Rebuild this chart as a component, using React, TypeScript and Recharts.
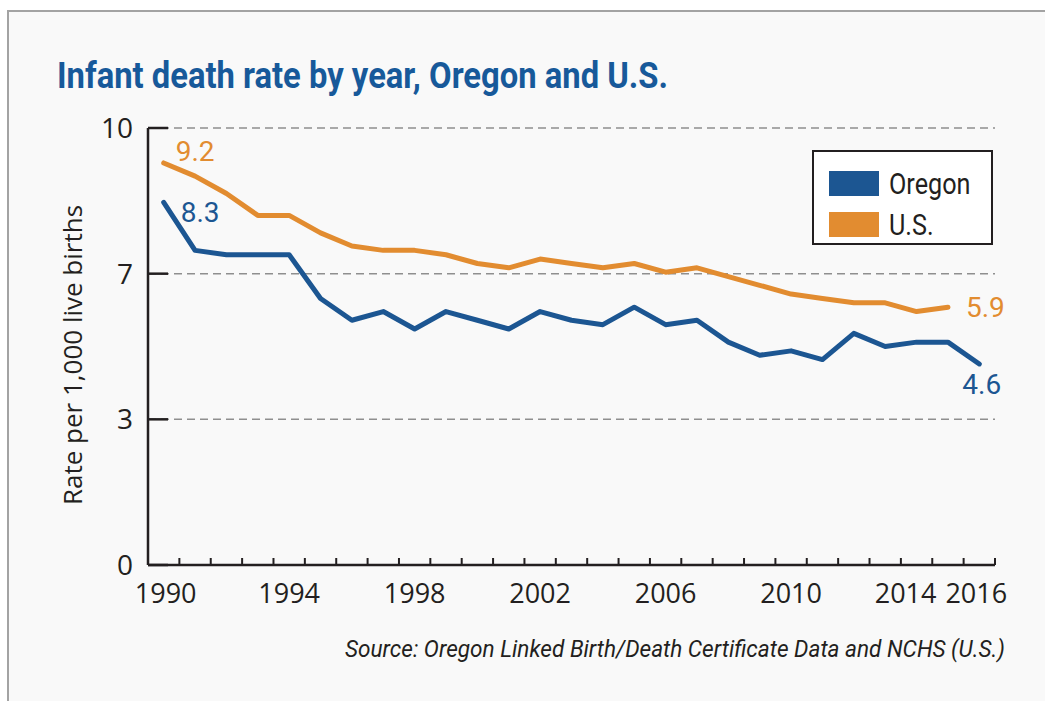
import { LineChart, Line, XAxis, YAxis, CartesianGrid, Legend } from 'recharts';

const years = [
  1990, 1991, 1992, 1993, 1994, 1995, 1996, 1997, 1998, 1999, 2000, 2001, 2002,
  2003, 2004, 2005, 2006, 2007, 2008, 2009, 2010, 2011, 2012, 2013, 2014, 2015, 2016,
];
const oregon = [
  8.3, 7.2, 7.1, 7.1, 7.1, 6.1, 5.6, 5.8, 5.4, 5.8, 5.6, 5.4, 5.8,
  5.6, 5.5, 5.9, 5.5, 5.6, 5.1, 4.8, 4.9, 4.7, 5.3, 5.0, 5.1, 5.1, 4.6,
];
const us = [
  9.2, 8.9, 8.5, 8.0, 8.0, 7.6, 7.3, 7.2, 7.2, 7.1, 6.9, 6.8, 7.0,
  6.9, 6.8, 6.9, 6.7, 6.8, 6.6, 6.4, 6.2, 6.1, 6.0, 6.0, 5.8, 5.9, null,
];
const yearLabels = [1990, 1994, 1998, 2002, 2006, 2010, 2014, 2016];
const yTicks = [0, 10 / 3, 20 / 3, 10];

const BLUE = '#1c5692';
const ORANGE = '#e28c30';
const INK = '#231f20';
const SANS = '"Open Sans", sans-serif';

const data = years.map((year, i) => ({ year, oregon: oregon[i], us: us[i] }));

// minor ticks sit between the years
const minorTicks = years.map((y) => y + 0.5);

function XTick(props: any) {
  const { x, y, payload } = props;
  const v = payload.value;
  if (v % 1 !== 0) {
    return <line x1={x} x2={x} y1={y} y2={y - 7} stroke={INK} strokeWidth={2} />;
  }
  // last two labels crowd each other, nudge them apart
  const dx = v === 2014 ? -11 : v === 2016 ? -3 : v === 1990 ? 2 : 0;
  return (
    <text x={x + dx} y={y + 38} textAnchor="middle" fontFamily={SANS} fontSize={27} fill={INK}>
      {v}
    </text>
  );
}

function YTick(props: any) {
  const { x, y, payload } = props;
  return (
    <g>
      <line x1={x} x2={x + 20} y1={y} y2={y} stroke={INK} strokeWidth={2.5} />
      <text x={x - 15} y={y + 10} textAnchor="end" fontFamily={SANS} fontSize={28} fill={INK}>
        {Math.round(payload.value)}
      </text>
    </g>
  );
}

function endLabel(color: string, first: [number, number], last: [number, number], lastIndex: number) {
  return (props: any) => {
    const { x, y, value, index } = props;
    if (index !== 0 && index !== lastIndex) return null;
    const [dx, dy] = index === 0 ? first : last;
    return (
      <text
        x={x + dx}
        y={y + dy}
        fontFamily="Roboto, sans-serif"
        fontSize={28}
        fill={color}
        dominantBaseline="central"
      >
        {value.toFixed(1)}
      </text>
    );
  };
}

function LegendBox({ payload }: any) {
  return (
    <div
      style={{
        border: `2.5px solid ${INK}`,
        background: '#fff',
        width: 181,
        height: 95,
        boxSizing: 'border-box',
        padding: '11px 0 0 15px',
      }}
    >
      {payload.map((p: any) => (
        <div key={p.value} style={{ display: 'flex', alignItems: 'center', height: 41 }}>
          <span style={{ width: 50, height: 25, background: p.color, marginRight: 10, flexShrink: 0 }} />
          <span
            style={{
              fontFamily: 'Roboto, sans-serif',
              fontSize: 30,
              color: INK,
              display: 'inline-block',
              transform: 'scaleX(0.84)',
              transformOrigin: 'left center',
              whiteSpace: 'nowrap',
            }}
          >
            {p.value}
          </span>
        </div>
      ))}
    </div>
  );
}

export default function App() {
  return (
    <div style={{ position: 'absolute', left: 0, top: 0, width: 1045, height: 701, background: '#fff', overflow: 'hidden' }}>
      <div
        style={{
          position: 'absolute',
          left: 7,
          top: 10,
          width: 1060,
          height: 720,
          border: '2px solid #a3a3a3',
          background: '#f9f9f9',
        }}
      />
      <svg width={1045} height={701} style={{ position: 'absolute', left: 0, top: 0 }}>
        <text
          x={57}
          y={88}
          fontFamily="Roboto, sans-serif"
          fontWeight="bold"
          fontSize={36}
          fill="#17599a"
          textLength={611}
          lengthAdjust="spacingAndGlyphs"
        >
          Infant death rate by year, Oregon and U.S.
        </text>
        <text
          x={82}
          y={355}
          transform="rotate(-90 82 355)"
          textAnchor="middle"
          fontFamily={SANS}
          fontSize={26}
          fill={INK}
        >
          Rate per 1,000 live births
        </text>
        <text
          x={345}
          y={657}
          fontFamily="Roboto, sans-serif"
          fontStyle="italic"
          fontSize={23}
          fill={INK}
          textLength={660}
          lengthAdjust="spacingAndGlyphs"
        >
          Source: Oregon Linked Birth/Death Certificate Data and NCHS (U.S.)
        </text>
      </svg>
      <div style={{ position: 'absolute', left: 0, top: 0 }}>
        <LineChart width={1045} height={701} data={data} margin={{ top: 128, right: 50, left: 0, bottom: 0 }}>
          <CartesianGrid vertical={false} stroke="#8f8f8f" strokeWidth={1.5} strokeDasharray="8 5" />
          <XAxis
            dataKey="year"
            type="number"
            domain={[1989.5, 2016.5]}
            ticks={[...minorTicks, ...yearLabels]}
            interval={0}
            tick={<XTick />}
            tickLine={false}
            tickSize={0}
            tickMargin={0}
            height={136}
            axisLine={{ stroke: INK, strokeWidth: 2.5 }}
          />
          <YAxis
            type="number"
            domain={[0, 10]}
            ticks={yTicks}
            interval={0}
            tick={<YTick />}
            tickLine={false}
            tickSize={0}
            tickMargin={0}
            width={148}
            axisLine={{ stroke: INK, strokeWidth: 2.5 }}
          />
          <Legend
            layout="horizontal"
            verticalAlign="middle"
            align="center"
            content={<LegendBox />}
            wrapperStyle={{ position: 'absolute', left: 812, top: 150, width: 181 }}
          />
          <Line
            name="Oregon"
            dataKey="oregon"
            stroke={BLUE}
            strokeWidth={5}
            strokeLinecap="round"
            strokeLinejoin="round"
            dot={false}
            isAnimationActive={false}
            label={endLabel(BLUE, [17, 10], [-17, 21], oregon.length - 1) as any}
          />
          <Line
            name="U.S."
            dataKey="us"
            stroke={ORANGE}
            strokeWidth={5}
            strokeLinecap="round"
            strokeLinejoin="round"
            dot={false}
            isAnimationActive={false}
            label={endLabel(ORANGE, [12, -11], [18, 0], us.length - 2) as any}
          />
        </LineChart>
      </div>
    </div>
  );
}
